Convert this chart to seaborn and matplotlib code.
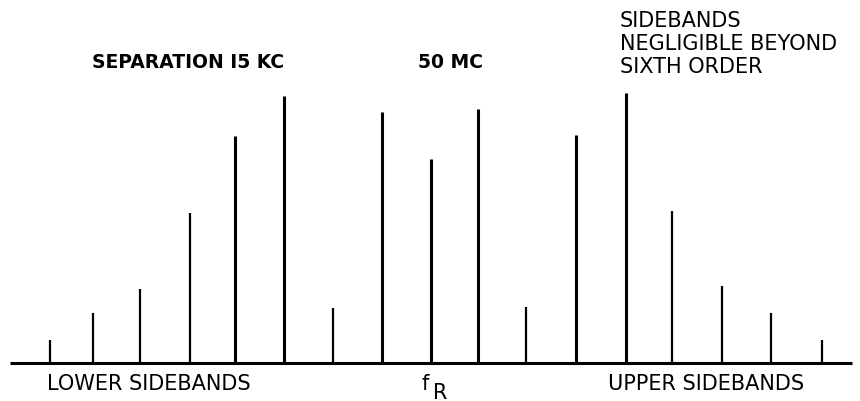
import matplotlib
matplotlib.use("Agg")
import matplotlib.pyplot as plt
import seaborn as sns
import numpy as np

# Frequency offset from the carrier f_R (in units of the 15 kc separation),
# read from the picture, and relative amplitudes
offsets = [-7.90, -7.01, -6.03, -4.99, -4.06, -3.05, -2.03, -1.02, 0.0,
           0.97, 1.97, 3.01, 4.04, 4.99, 6.03, 7.05, 8.10]
amplitudes = [8.5, 18.5, 27.4, 55.6, 84.0, 99.0, 20.4, 93.0, 75.5,
              94.0, 20.7, 84.4, 100.0, 56.3, 28.5, 18.5, 8.5]

title_left = "SEPARATION I5 KC"
title_mid = "50 MC"
note_right = "SIDEBANDS\nNEGLIGIBLE BEYOND\nSIXTH ORDER"
label_lower = "LOWER SIDEBANDS"
label_carrier_main = "f"
label_carrier_sub = "R"
label_upper = "UPPER SIDEBANDS"

sns.set_theme(style="white")
plt.rcParams["font.family"] = ["DejaVu Sans"]

W, H = 860, 402
fig = plt.figure(figsize=(W / 100, H / 100), dpi=100)
ax = fig.add_axes([0, 0, 1, 1])

px_per_unit = 48.25
x_left = -431 / px_per_unit
ax.set_xlim(x_left, x_left + W / px_per_unit)
yscale = 2.7
ax.set_ylim(-38 / yscale, (H - 38) / yscale)

widths = [2.2 if a > 60 else 1.6 for a in amplitudes]
for o, a, w in zip(offsets, amplitudes, widths):
    ax.vlines(o, 0, a, color="black", linewidth=w)

ax.hlines(0, x_left + 10 / px_per_unit, x_left + 852 / px_per_unit,
          color="black", linewidth=2.2)

ax.set_axis_off()
sns.despine(ax=ax, left=True, bottom=True)

def fx(px):
    return px / W

def fy(py):
    return 1 - py / H

fig.text(fx(188), fy(62), title_left, ha="center", va="center",
         fontsize=13.5, fontweight="bold", color="black")
fig.text(fx(450), fy(62), title_mid, ha="center", va="center",
         fontsize=13.5, fontweight="bold", color="black")
fig.text(fx(620), fy(11), note_right, ha="left", va="top",
         fontsize=15, color="black", linespacing=1.2)
fig.text(fx(149), fy(384), label_lower, ha="center", va="center",
         fontsize=15, color="black")
fig.text(fx(425), fy(384), label_carrier_main, ha="center", va="center",
         fontsize=15, color="black")
fig.text(fx(440), fy(393), label_carrier_sub, ha="center", va="center",
         fontsize=15, color="black")
fig.text(fx(706), fy(384), label_upper, ha="center", va="center",
         fontsize=15, color="black")

fig.savefig("out.png", dpi=100, facecolor="white")
